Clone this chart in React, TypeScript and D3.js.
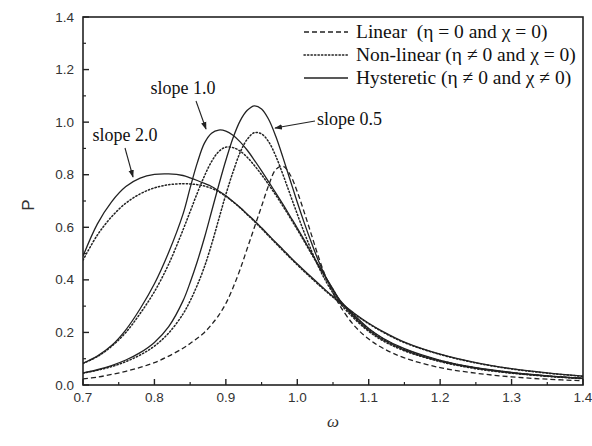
import React from 'react';
import * as d3 from 'd3';

// omega grid shared by every curve
const omega = [
  0.70, 0.72, 0.74, 0.76, 0.78, 0.80, 0.82,
  0.84, 0.85, 0.86, 0.87, 0.88, 0.89, 0.90, 0.91, 0.92, 0.93, 0.94, 0.95,
  0.96, 0.97, 0.98, 0.99, 1.00, 1.01, 1.02, 1.03, 1.04, 1.05, 1.06,
  1.08, 1.10, 1.12, 1.15, 1.20, 1.25, 1.30, 1.35, 1.40,
];

// linear (dashed)
const linear = [
  0.023, 0.030, 0.040, 0.052, 0.067, 0.085, 0.110,
  0.140, 0.158, 0.178, 0.200, 0.230, 0.265, 0.310, 0.370, 0.440, 0.520, 0.600, 0.680,
  0.760, 0.820, 0.832, 0.800, 0.735, 0.655, 0.570, 0.485, 0.410, 0.350, 0.300,
  0.225, 0.175, 0.140, 0.103, 0.066, 0.045, 0.031, 0.022, 0.016,
];

// non-linear (dotted)
const nonLinear05 = [
  0.045, 0.056, 0.070, 0.089, 0.114, 0.148, 0.198,
  0.270, 0.320, 0.380, 0.450, 0.535, 0.630, 0.725, 0.810, 0.885, 0.935, 0.960, 0.955,
  0.925, 0.870, 0.800, 0.725, 0.650, 0.578, 0.510, 0.448, 0.395, 0.350, 0.310,
  0.252, 0.204, 0.168, 0.130, 0.089, 0.062, 0.045, 0.033, 0.024,
];
const nonLinear10 = [
  0.082, 0.108, 0.147, 0.200, 0.272, 0.355, 0.460,
  0.590, 0.660, 0.730, 0.795, 0.850, 0.888, 0.905, 0.903, 0.890, 0.866, 0.835, 0.800,
  0.762, 0.722, 0.680, 0.636, 0.591, 0.545, 0.498, 0.452, 0.407, 0.363, 0.320,
  0.262, 0.213, 0.176, 0.136, 0.093, 0.065, 0.047, 0.034, 0.025,
];
const nonLinear20 = [
  0.475, 0.570, 0.640, 0.692, 0.727, 0.750, 0.762,
  0.766, 0.765, 0.762, 0.757, 0.748, 0.735, 0.718, 0.697, 0.674, 0.648, 0.622, 0.595,
  0.567, 0.539, 0.511, 0.484, 0.457, 0.431, 0.406, 0.381, 0.357, 0.334, 0.312,
  0.270, 0.233, 0.201, 0.161, 0.116, 0.084, 0.061, 0.045, 0.033,
];

// hysteretic (solid)
const hyst05 = [
  0.046, 0.058, 0.074, 0.095, 0.123, 0.162, 0.222,
  0.320, 0.390, 0.470, 0.560, 0.660, 0.760, 0.855, 0.940, 1.005, 1.045, 1.062, 1.050,
  1.010, 0.945, 0.865, 0.780, 0.695, 0.615, 0.540, 0.470, 0.410, 0.360, 0.318,
  0.258, 0.208, 0.172, 0.133, 0.091, 0.064, 0.046, 0.034, 0.025,
];
const hyst10 = [
  0.083, 0.110, 0.150, 0.210, 0.290, 0.385, 0.505,
  0.650, 0.750, 0.845, 0.920, 0.958, 0.970, 0.966, 0.950, 0.925, 0.893, 0.855, 0.815,
  0.773, 0.730, 0.687, 0.642, 0.597, 0.550, 0.502, 0.455, 0.410, 0.365, 0.322,
  0.265, 0.215, 0.178, 0.138, 0.094, 0.066, 0.048, 0.035, 0.026,
];
const hyst20 = [
  0.490, 0.612, 0.697, 0.755, 0.787, 0.801, 0.803,
  0.797, 0.788, 0.778, 0.767, 0.755, 0.738, 0.720, 0.698, 0.675, 0.650, 0.625, 0.598,
  0.570, 0.542, 0.515, 0.487, 0.460, 0.435, 0.410, 0.385, 0.360, 0.337, 0.315,
  0.272, 0.235, 0.203, 0.163, 0.117, 0.085, 0.062, 0.046, 0.034,
];

const xTicks = [0.7, 0.8, 0.9, 1.0, 1.1, 1.2, 1.3, 1.4];
const yTicks = [0.0, 0.2, 0.4, 0.6, 0.8, 1.0, 1.2, 1.4];

const legendLabels = [
  'Linear  (η = 0 and χ = 0)',
  'Non-linear (η ≠ 0 and χ = 0)',
  'Hysteretic (η ≠ 0 and χ ≠ 0)',
];

const W = 592;
const H = 446;
const margin = { top: 17, right: 9, bottom: 61, left: 83 };
const ink = '#222';
const dashes = ['5,3', '1.3,2.2', null];

const x = d3.scaleLinear().domain([0.7, 1.4]).range([margin.left, W - margin.right]);
const y = d3.scaleLinear().domain([0, 1.4]).range([H - margin.bottom, margin.top]);

const line = d3.line<number>()
  .x((_, i) => x(omega[i]))
  .y((d) => y(d))
  .curve(d3.curveCatmullRom.alpha(0.5));

const series = [
  { values: linear, style: 0 },
  { values: nonLinear05, style: 1 },
  { values: nonLinear10, style: 1 },
  { values: nonLinear20, style: 1 },
  { values: hyst05, style: 2 },
  { values: hyst10, style: 2 },
  { values: hyst20, style: 2 },
];

const sans = '"Liberation Sans", Arial, sans-serif';
const serif = '"Liberation Serif", "Times New Roman", serif';

export default function App() {
  const x0 = x.range()[0], x1 = x.range()[1];
  const y0 = y.range()[0], y1 = y.range()[1];
  const xMinor = d3.range(0.75, 1.4, 0.1);
  const yMinor = d3.range(0.1, 1.4, 0.2);

  const notes = [
    { text: 'slope 2.0', tx: 125, ty: 141, from: [125, 148], to: [133, 177], anchor: 'middle' },
    { text: 'slope 1.0', tx: 183, ty: 94, from: [196, 101], to: [206, 129], anchor: 'middle' },
    { text: 'slope 0.5', tx: 317, ty: 125, from: [315, 121], to: [275, 128], anchor: 'start' },
  ];

  return (
    <svg width={W} height={H} style={{ position: 'absolute', left: 0, top: 0, background: '#fff' }}>
      <defs>
        <marker id="arr" viewBox="0 0 10 10" refX="9" refY="5" markerWidth="7" markerHeight="7" orient="auto">
          <path d="M0,1.5 L10,5 L0,8.5 z" fill={ink} />
        </marker>
        <clipPath id="plot">
          <rect x={x0} y={y1} width={x1 - x0} height={y0 - y1} />
        </clipPath>
      </defs>

      <g clipPath="url(#plot)">
        {series.map((s, i) => (
          <path key={i} d={line(s.values) || ''} fill="none" stroke={ink}
            strokeWidth={s.style === 1 ? 1.5 : 1.3}
            strokeDasharray={dashes[s.style] || undefined}
            strokeLinecap={s.style === 1 ? 'round' : 'butt'} />
        ))}
      </g>

      {/* frame */}
      <rect x={x0} y={y1} width={x1 - x0} height={y0 - y1} fill="none" stroke={ink} strokeWidth={1.6} />

      {/* x ticks */}
      {xTicks.map((t) => (
        <g key={'x' + t}>
          <line x1={x(t)} x2={x(t)} y1={y0} y2={y0 - 6} stroke={ink} strokeWidth={1.4} />
          <text x={x(t)} y={y0 + 17} textAnchor="middle" fontFamily={sans} fontSize={13.5} fill="#333">{t.toFixed(1)}</text>
        </g>
      ))}
      {xMinor.map((t) => (
        <line key={'xm' + t} x1={x(t)} x2={x(t)} y1={y0} y2={y0 - 3} stroke={ink} strokeWidth={1.2} />
      ))}

      {/* y ticks */}
      {yTicks.map((t) => (
        <g key={'y' + t}>
          <line x1={x0} x2={x0 + 6} y1={y(t)} y2={y(t)} stroke={ink} strokeWidth={1.4} />
          <text x={x0 - 9} y={y(t) + 4.5} textAnchor="end" fontFamily={sans} fontSize={13.5} fill="#333">{t.toFixed(1)}</text>
        </g>
      ))}
      {yMinor.map((t) => (
        <line key={'ym' + t} x1={x0} x2={x0 + 3} y1={y(t)} y2={y(t)} stroke={ink} strokeWidth={1.2} />
      ))}

      {/* axis titles */}
      <text transform={`translate(34,${(y0 + y1) / 2 + 4}) rotate(-90)`} textAnchor="middle" fontFamily={sans} fontSize={17} fill="#333">P</text>
      <text x={(x0 + x1) / 2} y={427} textAnchor="middle" fontFamily={serif} fontStyle="italic" fontSize={17} fill="#333">ω</text>

      {/* legend */}
      {legendLabels.map((label, i) => {
        const ly = 32 + i * 23;
        return (
          <g key={label}>
            <line x1={304} x2={348} y1={ly} y2={ly} stroke={ink} strokeWidth={i === 1 ? 1.5 : 1.3}
              strokeDasharray={dashes[i] || undefined} strokeLinecap={i === 1 ? 'round' : 'butt'} />
            <text x={356} y={ly + 6} fontFamily={serif} fontSize={19.5} fill="#111" style={{ whiteSpace: 'pre' }}>{label}</text>
          </g>
        );
      })}

      {/* annotations */}
      {notes.map((n) => (
        <g key={n.text}>
          <text x={n.tx} y={n.ty} textAnchor={n.anchor as any} fontFamily={serif} fontSize={18} fill="#111">{n.text}</text>
          <line x1={n.from[0]} y1={n.from[1]} x2={n.to[0]} y2={n.to[1]} stroke={ink} strokeWidth={1.1} markerEnd="url(#arr)" />
        </g>
      ))}
    </svg>
  );
}
